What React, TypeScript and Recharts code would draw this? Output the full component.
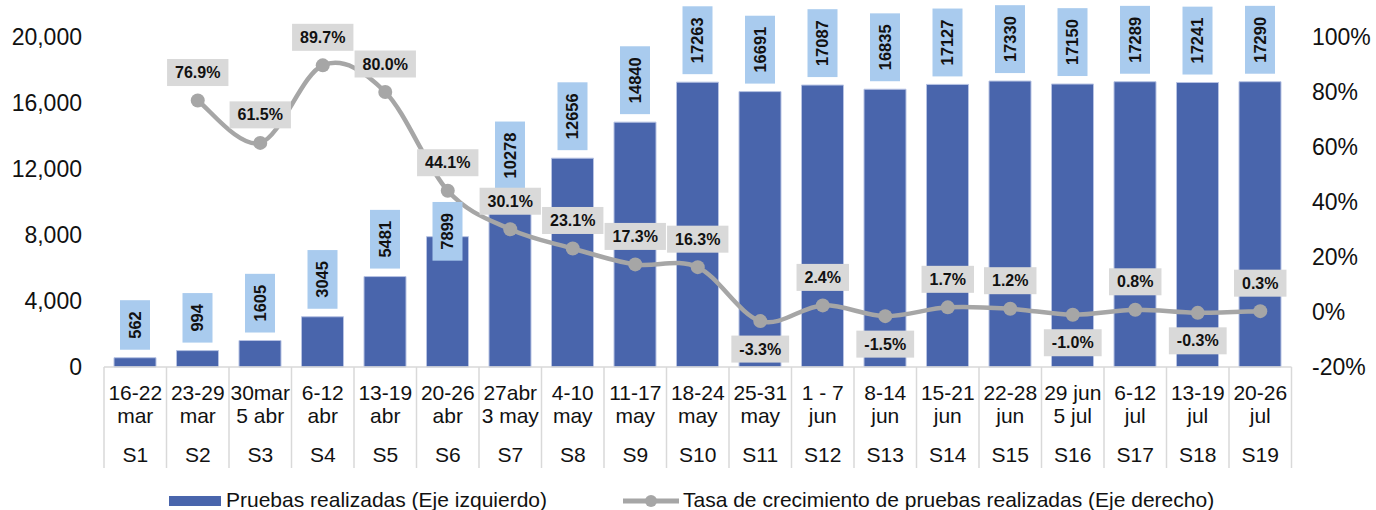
import { ComposedChart, Bar, Line, XAxis, YAxis, Legend, LabelList } from 'recharts';

const weeks = ['S1', 'S2', 'S3', 'S4', 'S5', 'S6', 'S7', 'S8', 'S9', 'S10', 'S11', 'S12', 'S13', 'S14', 'S15', 'S16', 'S17', 'S18', 'S19'];
const dateTop = ['16-22', '23-29', '30mar', '6-12', '13-19', '20-26', '27abr', '4-10', '11-17', '18-24', '25-31', '1 - 7', '8-14', '15-21', '22-28', '29 jun', '6-12', '13-19', '20-26'];
const dateBottom = ['mar', 'mar', '5 abr', 'abr', 'abr', 'abr', '3 may', 'may', 'may', 'may', 'may', 'jun', 'jun', 'jun', 'jun', '5 jul', 'jul', 'jul', 'jul'];
const tests = [562, 994, 1605, 3045, 5481, 7899, 10278, 12656, 14840, 17263, 16691, 17087, 16835, 17127, 17330, 17150, 17289, 17241, 17290];
const growth: (number | null)[] = [null, 76.9, 61.5, 89.7, 80.0, 44.1, 30.1, 23.1, 17.3, 16.3, -3.3, 2.4, -1.5, 1.7, 1.2, -1.0, 0.8, -0.3, 0.3];
const leftTicks = [0, 4000, 8000, 12000, 16000, 20000];
const rightTicks = [-20, 0, 20, 40, 60, 80, 100];

const data = weeks.map((week, i) => ({
    week,
    tests: tests[i],
    growth: growth[i],
}));

const FONT = "'Liberation Sans', Arial, sans-serif";
const W = 1376;
const H = 510;
const LEFT_W = 104;
const RIGHT_W = 84.5;
const BAND = (W - LEFT_W - RIGHT_W) / weeks.length;

const BAR_BLUE = '#4965ac';
const LABEL_BLUE = '#a9cbee';
const GREY = '#a6a6a6';
const BOX_GREY = '#d9d9d9';

// the 7899 label was pushed down in the original to clear the 44.1% box
const barLabelNudge: Record<number, number> = { 5: 32 };

// Excel-style smoothed line (catmull-rom through the points)
const excelSmooth = (context: any) => {
    let pts: [number, number][] = [];
    return {
        areaStart() {},
        areaEnd() {},
        lineStart() {
            pts = [];
        },
        point(x: number, y: number) {
            pts.push([+x, +y]);
        },
        lineEnd() {
            if (!pts.length) return;
            context.moveTo(pts[0][0], pts[0][1]);
            for (let i = 0; i < pts.length - 1; i++) {
                const p0 = pts[i - 1] ?? pts[i];
                const p1 = pts[i];
                const p2 = pts[i + 1];
                const p3 = pts[i + 2] ?? p2;
                context.bezierCurveTo(
                    p1[0] + (p2[0] - p0[0]) / 6,
                    p1[1] + (p2[1] - p0[1]) / 6,
                    p2[0] - (p3[0] - p1[0]) / 6,
                    p2[1] - (p3[1] - p1[1]) / 6,
                    p2[0],
                    p2[1]
                );
            }
        },
    };
};

function textWidth(s: string, size: number) {
    let w = 0;
    for (const c of s) {
        if (c === '.') w += 0.278;
        else if (c === '%') w += 0.889;
        else if (c === '-') w += 0.333;
        else w += 0.556;
    }
    return w * size;
}

function WeekTick(props: any) {
    const { x, y, payload } = props;
    const i = payload.index;
    const half = BAND / 2;
    return (
        <g fontFamily={FONT} fontSize={21} fill="#111">
            <line x1={x - half} x2={x - half} y1={y} y2={y + 101} stroke={BOX_GREY} strokeWidth={1.5} />
            {i === weeks.length - 1 && (
                <line x1={x + half} x2={x + half} y1={y} y2={y + 101} stroke={BOX_GREY} strokeWidth={1.5} />
            )}
            <text x={x} y={y + 33} textAnchor="middle">{dateTop[i]}</text>
            <text x={x} y={y + 56} textAnchor="middle">{dateBottom[i]}</text>
            <text x={x} y={y + 95} textAnchor="middle">{weeks[i]}</text>
        </g>
    );
}

function BarValueLabel(props: any) {
    const { x, y, width, value, index } = props;
    if (value == null) return null;
    const label = String(value);
    const size = 16.5;
    const h = textWidth(label, size) + 22;
    const bw = 30;
    const cx = x + width / 2;
    const bottom = y - 8 + (barLabelNudge[index] ?? 0);
    const cy = bottom - h / 2;
    return (
        <g>
            <rect x={cx - bw / 2} y={bottom - h} width={bw} height={h} fill={LABEL_BLUE} />
            <text
                x={cx}
                y={cy}
                transform={`rotate(-90 ${cx} ${cy})`}
                textAnchor="middle"
                dominantBaseline="central"
                fontFamily={FONT}
                fontWeight="bold"
                fontSize={size}
                fill="#111"
            >
                {label}
            </text>
        </g>
    );
}

function RateLabel(props: any) {
    const { x, y, value } = props;
    if (value == null) return null;
    const label = `${Number(value).toFixed(1)}%`;
    const size = 16;
    const w = textWidth(label, size) + 16;
    const h = 27;
    const cy = value >= 0 ? y - 28 : y + 28;
    return (
        <g>
            <rect x={x - w / 2} y={cy - h / 2} width={w} height={h} fill={BOX_GREY} />
            <text
                x={x}
                y={cy}
                textAnchor="middle"
                dominantBaseline="central"
                fontFamily={FONT}
                fontWeight="bold"
                fontSize={size}
                fill="#111"
            >
                {label}
            </text>
        </g>
    );
}

function ChartLegend() {
    return (
        <svg width={W} height={26} style={{ display: 'block' }}>
            <g fontFamily={FONT} fontSize={21} fill="#111">
                <rect x={169} y={12} width={52} height={10} fill={BAR_BLUE} />
                <text x={226} y={23}>Pruebas realizadas (Eje izquierdo)</text>
                <line x1={623} x2={679} y1={17} y2={17} stroke={GREY} strokeWidth={5} />
                <circle cx={651} cy={17} r={6} fill={GREY} />
                <text x={683} y={23}>Tasa de crecimiento de pruebas realizadas (Eje derecho)</text>
            </g>
        </svg>
    );
}

export default function App() {
    return (
        <div style={{ width: W, height: H, background: '#fff' }}>
            <style>{'body{margin:0}'}</style>
            <ComposedChart
                width={W}
                height={H}
                data={data}
                margin={{ top: 37, right: 0, bottom: 0, left: 0 }}
            >
                <XAxis
                    dataKey="week"
                    height={143}
                    interval={0}
                    tickLine={false}
                    tickSize={0}
                    tickMargin={0}
                    axisLine={{ stroke: BOX_GREY, strokeWidth: 1.5 }}
                    tick={<WeekTick />}
                />
                <YAxis
                    yAxisId="left"
                    width={LEFT_W}
                    domain={[0, 20000]}
                    ticks={leftTicks}
                    tickFormatter={(v: number) => v.toLocaleString('en-US')}
                    axisLine={false}
                    tickLine={false}
                    tickMargin={16}
                    tick={{ fontFamily: FONT, fontSize: 23, fill: '#111' }}
                />
                <YAxis
                    yAxisId="right"
                    orientation="right"
                    width={RIGHT_W}
                    domain={[-20, 100]}
                    ticks={rightTicks}
                    tickFormatter={(v: number) => `${v}%`}
                    axisLine={false}
                    tickLine={false}
                    tickMargin={14.5}
                    tick={{ fontFamily: FONT, fontSize: 23, fill: '#111', textAnchor: 'start' }}
                />
                <Legend
                    verticalAlign="middle"
                    align="center"
                    wrapperStyle={{ top: 484, left: 0 }}
                    content={() => <ChartLegend />}
                />
                <Bar
                    yAxisId="left"
                    dataKey="tests"
                    name="Pruebas realizadas (Eje izquierdo)"
                    fill={BAR_BLUE}
                    stroke="#b7c3e3"
                    strokeWidth={1}
                    barSize={42}
                    isAnimationActive={false}
                >
                    <LabelList dataKey="tests" content={<BarValueLabel />} />
                </Bar>
                <Line
                    yAxisId="right"
                    dataKey="growth"
                    name="Tasa de crecimiento de pruebas realizadas (Eje derecho)"
                    type={excelSmooth as any}
                    stroke={GREY}
                    strokeWidth={4.5}
                    dot={{ r: 7, fill: GREY, stroke: GREY, strokeWidth: 0 }}
                    activeDot={false}
                    isAnimationActive={false}
                >
                    <LabelList dataKey="growth" content={<RateLabel />} />
                </Line>
            </ComposedChart>
        </div>
    );
}
